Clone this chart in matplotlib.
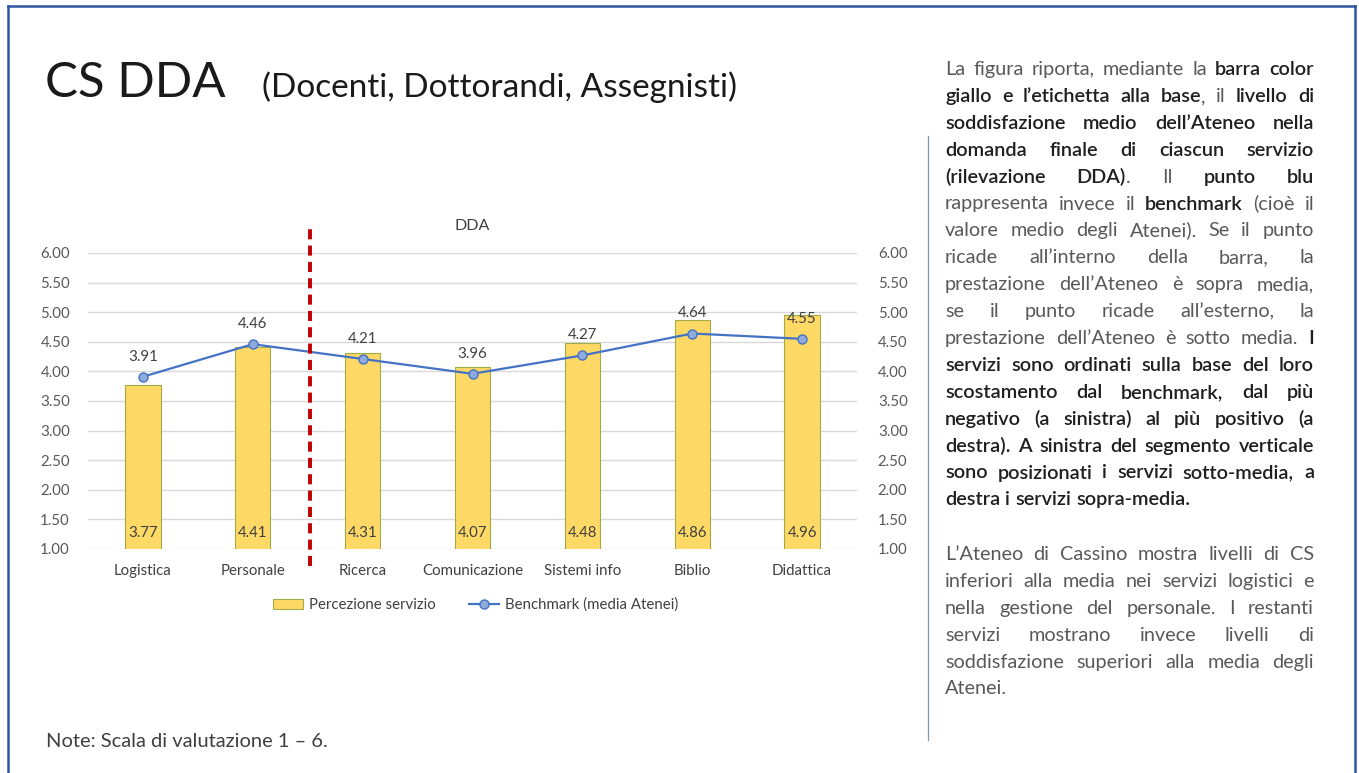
import matplotlib
matplotlib.use('Agg')
import matplotlib.pyplot as plt
from matplotlib.lines import Line2D
from matplotlib.patches import Patch
from matplotlib.ticker import FormatStrFormatter

# ---------------- data ----------------
categories = ['Logistica', 'Personale', 'Ricerca', 'Comunicazione',
              'Sistemi info', 'Biblio', 'Didattica']
perception = [3.77, 4.41, 4.31, 4.07, 4.48, 4.86, 4.96]
benchmark = [3.91, 4.46, 4.21, 3.96, 4.27, 4.64, 4.55]
yticks = [1.00, 1.50, 2.00, 2.50, 3.00, 3.50, 4.00, 4.50, 5.00, 5.50, 6.00]
series_names = ['Percezione servizio', 'Benchmark (media Atenei)']
chart_title = 'DDA'
title_main = 'CS DDA'
title_sub = '(Docenti, Dottorandi, Assegnisti)'
note_text = 'Note: Scala di valutazione 1 \u2013 6.'

para1 = [
    "La figura riporta, mediante la **barra color**",
    "**giallo e l\u2019etichetta alla base**, il **livello di**",
    "**soddisfazione medio dell\u2019Ateneo nella**",
    "**domanda finale di ciascun servizio**",
    "**(rilevazione DDA)**. Il **punto blu**",
    "rappresenta invece il **benchmark** (cio\u00e8 il",
    "valore medio degli Atenei). Se il punto",
    "ricade all\u2019interno della barra, la",
    "prestazione dell\u2019Ateneo \u00e8 sopra media,",
    "se il punto ricade all\u2019esterno, la",
    "prestazione dell\u2019Ateneo \u00e8 sotto media. **I**",
    "**servizi sono ordinati sulla base del loro**",
    "**scostamento dal benchmark, dal pi\u00f9**",
    "**negativo (a sinistra) al pi\u00f9 positivo (a**",
    "**destra). A sinistra del segmento verticale**",
    "**sono posizionati i servizi sotto-media, a**",
    "**destra i servizi sopra-media.**",
]
para2 = [
    "L\u2019Ateneo di Cassino mostra livelli di CS",
    "inferiori alla media nei servizi logistici e",
    "nella gestione del personale. I restanti",
    "servizi mostrano invece livelli di",
    "soddisfazione superiori alla media degli",
    "Atenei.",
]

# ---------------- figure ----------------
W, H = 1359, 773
plt.rcParams['font.family'] = ['Lato', 'DejaVu Sans']
fig = plt.figure(figsize=(W / 100, H / 100), dpi=100)
fig.patch.set_facecolor('white')


def fx(x):
    return x / W


def fy(y):
    return 1 - y / H


# slide border
border_c = '#2F55A0'
fig.add_artist(Line2D([fx(8), fx(8)], [0, fy(6)], transform=fig.transFigure, color=border_c, lw=1.8))
fig.add_artist(Line2D([fx(8), fx(1355)], [fy(6), fy(6)], transform=fig.transFigure, color=border_c, lw=1.8))
fig.add_artist(Line2D([fx(1355), fx(1355)], [0, fy(6)], transform=fig.transFigure, color=border_c, lw=1.8))
# thin vertical separator
fig.add_artist(Line2D([fx(928), fx(928)], [fy(740), fy(136)], transform=fig.transFigure, color='#8497B0', lw=0.9))

# titles
fig.text(fx(45), fy(97), title_main, fontsize=35.5, fontweight='normal', color='#1a1a1a', va='baseline', ha='left')
fig.text(fx(262), fy(97), title_sub, fontsize=24, fontweight='normal', color='#1a1a1a', va='baseline', ha='left')
fig.text(fx(46), fy(747), note_text, fontsize=14.5, color='#404040', va='baseline', ha='left')

# ---------------- chart ----------------
ax = fig.add_axes([fx(88), fy(549), (857 - 88) / W, (549 - 253) / H])
xs = list(range(len(categories)))
ax.bar(xs, perception, width=0.32, color='#FFD966', edgecolor='#A2AC45', linewidth=0.8, zorder=2)
ax.plot(xs, benchmark, color='#4472C4', lw=1.6, marker='o', ms=6.5,
        mfc='#8FAADC', mec='#4472C4', mew=1.0, zorder=4)
ax.set_ylim(1, 6)
ax.set_xlim(-0.5, len(categories) - 0.5)
ax.set_yticks(yticks)
ax.yaxis.set_major_formatter(FormatStrFormatter('%.2f'))
ax.set_xticks(xs)
ax.set_xticklabels(categories)
ax.yaxis.grid(True, color='#D9D9D9', lw=1.0)
ax.set_axisbelow(True)
for s in ax.spines.values():
    s.set_visible(False)
ax.tick_params(axis='y', length=0, pad=13, labelsize=10.8, labelcolor='#595959')
ax.tick_params(axis='x', length=0, pad=11, labelsize=10.8, labelcolor='#404040')

ax2 = ax.twinx()
ax2.set_ylim(1, 6)
ax2.set_yticks(yticks)
ax2.yaxis.set_major_formatter(FormatStrFormatter('%.2f'))
for s in ax2.spines.values():
    s.set_visible(False)
ax2.tick_params(axis='y', length=0, pad=15, labelsize=10.8, labelcolor='#595959')

for i in xs:
    ax.annotate(f'{benchmark[i]:.2f}', (i, benchmark[i]), xytext=(0, 14.5),
                textcoords='offset points', ha='center', va='center',
                fontsize=10.8, color='#404040', zorder=5)
    ax.annotate(f'{perception[i]:.2f}', (i, 1), xytext=(0, 11.5),
                textcoords='offset points', ha='center', va='center',
                fontsize=10.8, color='#404040', zorder=5)

# red dashed separator between below- and above-average services
ax.plot([1.52, 1.52], [0.71, 6.51], color='#C00000', lw=2.8,
        ls=(0, (2.6, 1.6)), clip_on=False, zorder=6)

fig.text(fx(472), fy(226), chart_title, fontsize=11.5, color='#404040', ha='center', va='center')

handles = [Patch(facecolor='#FFD966', edgecolor='#A2AC45', linewidth=0.8),
           Line2D([], [], color='#4472C4', lw=1.6, marker='o', ms=6.5,
                  mfc='#8FAADC', mec='#4472C4', mew=1.0)]
fig.legend(handles, series_names, loc='center', bbox_to_anchor=(fx(476), fy(605)),
           ncol=2, frameon=False, fontsize=10.8, handlelength=2.0,
           columnspacing=2.2, handletextpad=0.4, labelcolor='#404040')

# ---------------- justified paragraphs ----------------
renderer = fig.canvas.get_renderer()
TXT_SIZE = 14.3
REG_C = '#595959'
BOLD_C = '#1f1f1f'
BOLD_W = 'semibold'


def parse(line):
    words, cur = [], []
    for k, seg in enumerate(line.split('**')):
        b = (k % 2 == 1)
        parts = seg.split(' ')
        for j, p in enumerate(parts):
            if j > 0 and cur:
                words.append(cur)
                cur = []
            if p:
                cur.append((p, b))
    if cur:
        words.append(cur)
    return words


def measure(s, bold):
    t = fig.text(0, 0, s, fontsize=TXT_SIZE, fontweight=BOLD_W if bold else 'normal')
    w = t.get_window_extent(renderer).width
    t.remove()
    return w


space_w = measure('x x', False) - measure('xx', False)


def draw_para(lines, x0, x1, y0, dy):
    for li, line in enumerate(lines):
        words = parse(line)
        widths = [[measure(p, b) for p, b in wd] for wd in words]
        totals = [sum(w) for w in widths]
        last = (li == len(lines) - 1)
        if last or len(words) < 2:
            gap = space_w
        else:
            gap = (x1 - x0 - sum(totals)) / (len(words) - 1)
        x = x0
        y = y0 + li * dy
        for wd, ws, tot in zip(words, widths, totals):
            xx = x
            for (p, b), w in zip(wd, ws):
                fig.text(fx(xx), fy(y), p, fontsize=TXT_SIZE,
                         fontweight=BOLD_W if b else 'normal',
                         color=BOLD_C if b else REG_C, ha='left', va='baseline')
                xx += w
            x += tot + gap


draw_para(para1, 945, 1314, 75, 26.9)
draw_para(para2, 945, 1314, 560, 26.9)

fig.savefig('out.png', dpi=100, facecolor='white')
